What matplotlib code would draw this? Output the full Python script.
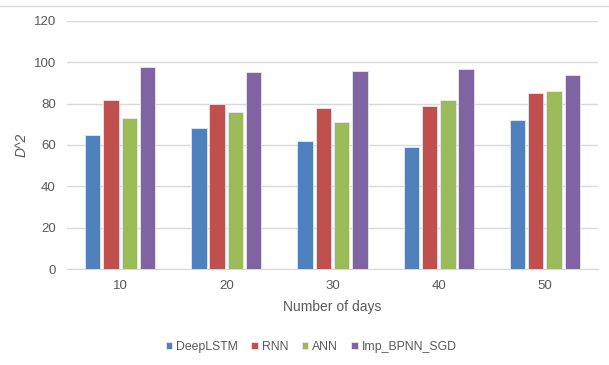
import matplotlib
matplotlib.use('Agg')
import matplotlib.pyplot as plt
from matplotlib.lines import Line2D
import numpy as np

plt.rcParams['font.family'] = ['Liberation Sans', 'DejaVu Sans']

days = ['10', '20', '30', '40', '50']
models = ['DeepLSTM', 'RNN', 'ANN', 'Imp_BPNN_SGD']
deeplstm = [65, 68, 62, 59, 72]
rnn = [82, 80, 78, 79, 85]
ann = [73, 76, 71, 82, 86]
imp_bpnn_sgd = [97.5, 95.5, 96, 96.8, 94]
series = [deeplstm, rnn, ann, imp_bpnn_sgd]
colors = ['#4F81BD', '#C0504D', '#9BBB59', '#8064A2']

fig = plt.figure(figsize=(6.09, 3.65), dpi=100)
ax = fig.add_axes([0.110, 0.263, 0.872, 0.6795])

x = np.arange(len(days))
slot = 0.172
for i, (vals, c) in enumerate(zip(series, colors)):
    ax.bar(x + (i - 1.5) * slot, vals, width=slot * 0.84, color=c,
           edgecolor='#e8e8f0', linewidth=0.6, label=models[i], zorder=3)

ax.set_xlim(-0.5, len(days) - 0.5)
ax.set_ylim(0, 120)
ax.set_yticks(range(0, 121, 20))
ax.set_xticks(x)
ax.set_xticklabels(days)
ax.yaxis.grid(True, color='#d9d9d9', linewidth=1)
for s in ['top', 'right', 'left']:
    ax.spines[s].set_visible(False)
ax.spines['bottom'].set_color('#d9d9d9')
ax.tick_params(axis='both', length=0, labelsize=9.5, labelcolor='#595959', pad=8)

ax.set_xlabel('Number of days', fontsize=10, color='#595959', labelpad=6)
ax.set_ylabel('D^2', fontsize=10, color='#595959', fontstyle='italic')
ax.yaxis.set_label_coords(-0.072, 0.5)

ax.legend(loc='upper center', bbox_to_anchor=(0.46, -0.245), ncol=4, frameon=False,
          fontsize=8.8, handlelength=0.55, handleheight=0.55, handletextpad=0.3,
          columnspacing=1.1, labelcolor='#595959')

# thin frame line along the top of the chart
fig.add_artist(Line2D([0, 1], [1 - 6 / 365, 1 - 6 / 365], color='#d9d9d9', linewidth=1))

plt.savefig('out.png', dpi=100)
